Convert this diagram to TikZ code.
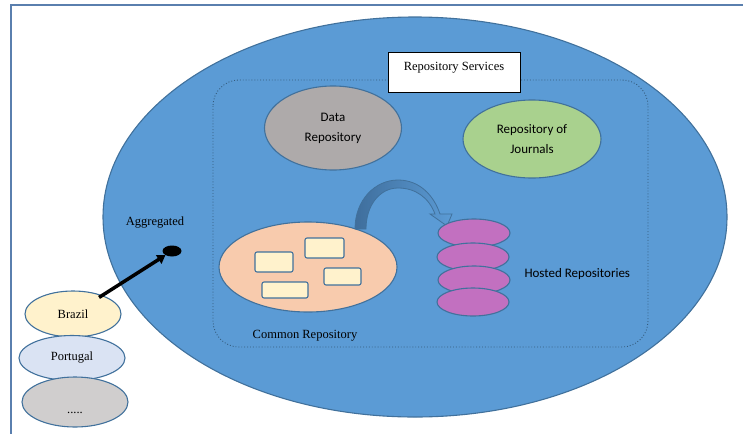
\documentclass[tikz,border=0pt]{standalone}
\usepackage{fontspec}
\setmainfont{Liberation Serif}
\newfontfamily\calfont{Carlito}
\usetikzlibrary{shapes.geometric,arrows.meta}
\definecolor{bigblue}{HTML}{5B9BD5}
\definecolor{edgeblue}{HTML}{41719C}
\definecolor{framecol}{HTML}{5A7FAE}
\definecolor{darkarrow}{HTML}{3F6E9C}
\definecolor{datagray}{HTML}{AEAAAA}
\definecolor{journgreen}{HTML}{A9D18E}
\definecolor{commonpeach}{HTML}{F8CBAD}
\definecolor{paleyellow}{HTML}{FFF2CC}
\definecolor{paleblue}{HTML}{DAE3F3}
\definecolor{lightgray}{HTML}{D0CECE}
\definecolor{hostpink}{HTML}{C270C0}
\tikzset{
  oval/.style={ellipse, draw=edgeblue, line width=1.1pt, inner sep=0pt, align=center},
  romantext/.style={font=\rmfamily\fontsize{12.5}{14}\selectfont},
  sanstext/.style={font=\calfont\fontsize{13}{20}\selectfont},
  tag/.style={rectangle, rounded corners=2pt, draw=edgeblue, line width=1.1pt, fill=paleyellow, inner sep=0pt},
  disk/.style={oval, fill=hostpink, minimum width=72pt, minimum height=28pt},
}
\begin{document}
\begin{tikzpicture}[x=1pt,y=-1pt]
\useasboundingbox (0,0) rectangle (743,434);
% outer frame (top and left edges)
\draw[framecol, line width=1.3pt] (743,5) -- (11,5) -- (11,434);
% large service area
\node[oval, fill=bigblue, minimum width=624pt, minimum height=400pt] (area) at (415,217) {};
% dotted boundary of the repository services
\draw[edgeblue!80!black, dotted, line width=0.9pt, rounded corners=26pt] (213,80) rectangle (648,347);
% title box
\node[draw=black, fill=white, line width=0.9pt, rectangle, minimum width=132pt, minimum height=40pt,
      inner ysep=6pt, text height=12pt, text depth=16pt, anchor=north, romantext] (svc) at (454,52) {Repository Services};
% services
\node[oval, fill=datagray, minimum width=137pt, minimum height=84pt, sanstext] (data) at (333,128) {Data\\Repository};
\node[oval, fill=journgreen, minimum width=138pt, minimum height=78pt, sanstext] (journ) at (532,139) {Repository of\\Journals};
% common repository with its documents
\node[oval, fill=commonpeach, minimum width=178pt, minimum height=90pt] (common) at (308,267) {};
\node[tag, minimum width=38pt, minimum height=20pt] (t1) at (274,262) {};
\node[tag, minimum width=39pt, minimum height=20pt] (t2) at (324.5,248) {};
\node[tag, minimum width=37pt, minimum height=17pt] (t3) at (342.5,276.5) {};
\node[tag, minimum width=46pt, minimum height=16pt] (t4) at (285,290) {};
\node[romantext, anchor=base] (commonlbl) at (305,338) {Common Repository};
% curved block arrow from the common repository to the hosted ones
\draw[edgeblue, line width=0.8pt, left color=darkarrow, right color=bigblue]
  (355,229) .. controls (355,200) and (375,180) .. (398,180)
  .. controls (420,180) and (434,196) .. (440,214)
  -- (452,214) -- (447,226) -- (430,214) -- (435,214)
  .. controls (429,198) and (416,188) .. (398,188)
  .. controls (380,188) and (366,205) .. (366,229) -- cycle;
% hosted repositories stack
\node[disk] (h1) at (474,233) {};
\node[disk] (h2) at (473,257) {};
\node[disk] (h3) at (474,280) {};
\node[disk] (h4) at (473,302) {};
\node[sanstext, anchor=west] (hostlbl) at (521,274) {Hosted Repositories};
% aggregation of national repositories
\node[romantext, anchor=base] (agg) at (155,225) {Aggregated};
\node[ellipse, fill=black, minimum width=19pt, minimum height=11pt, inner sep=0pt] (dot) at (172,251) {};
\node[oval, fill=paleyellow, minimum width=96pt, minimum height=46pt, romantext] (brazil) at (73,314) {Brazil};
\node[oval, fill=paleblue, minimum width=106pt, minimum height=45pt, romantext] (portugal) at (72,358) {Portugal};
\node[oval, fill=lightgray, minimum width=106pt, minimum height=50pt, romantext,
      text height=22pt, text depth=0pt] (more) at (75,402) {.....};
\draw[line width=3.5pt, -{Triangle[length=8pt,width=10pt]}, shorten <=-4pt] (brazil) -- (dot);
\end{tikzpicture}
\end{document}
